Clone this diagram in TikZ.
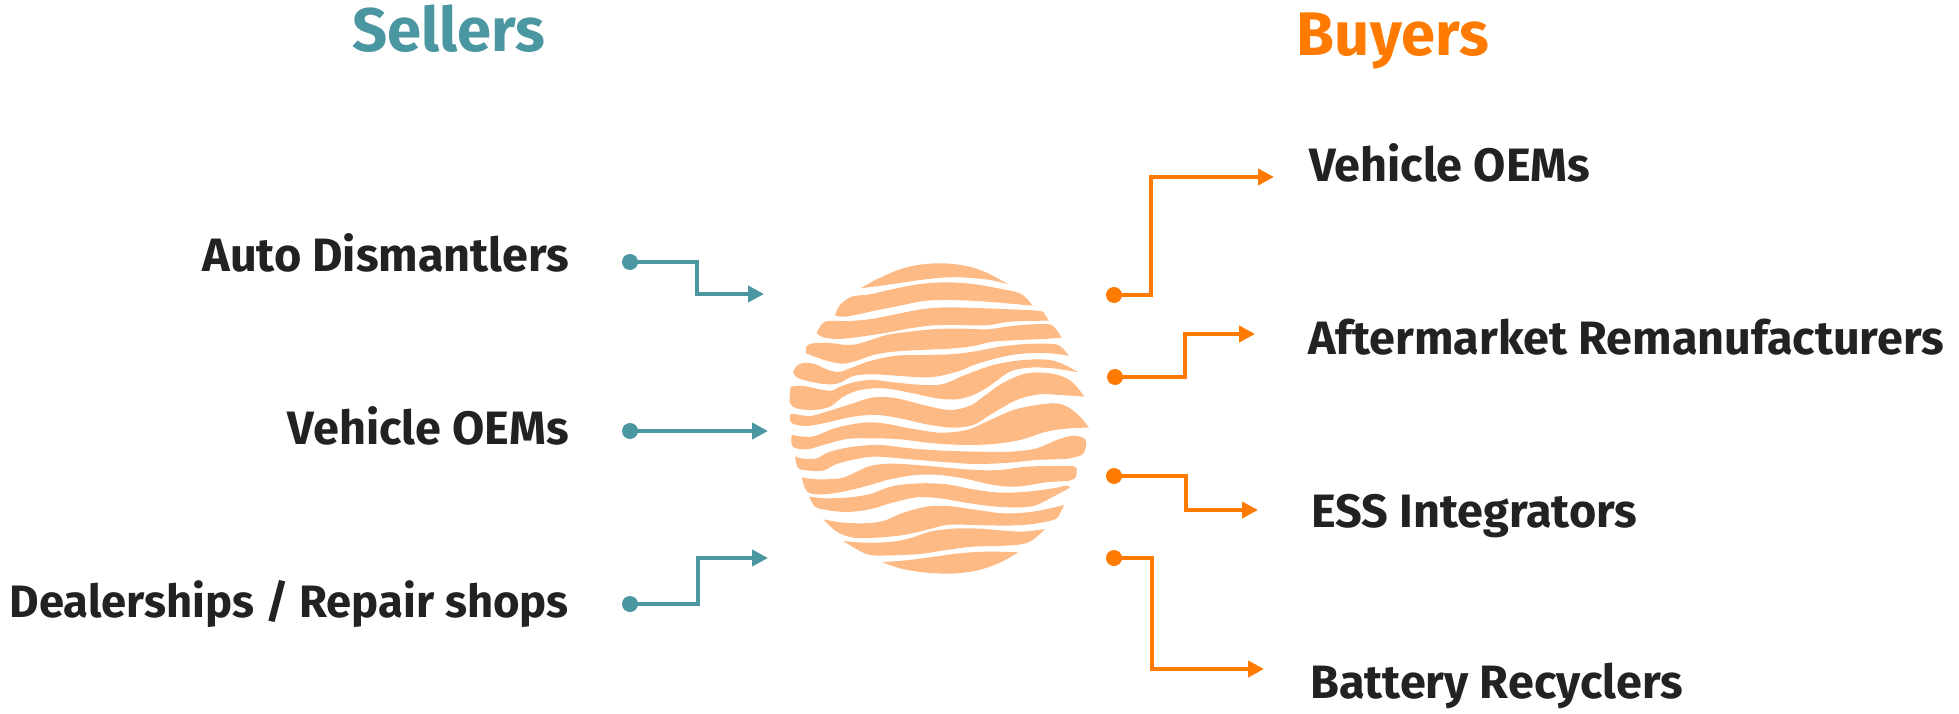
\documentclass[tikz,border=0pt]{standalone}
\usepackage{fontspec}
\setmainfont{Fira Sans}[BoldFont={* Bold}]
\definecolor{teal1}{HTML}{4A96A1}
\definecolor{orange1}{HTML}{FF7A00}
\definecolor{ink}{HTML}{222222}
\definecolor{blob}{HTML}{FDBA84}
\newcommand{\band}[2]{\fill[blob] plot[smooth,tension=.55] coordinates {#1} -- plot[smooth,tension=.55] coordinates {#2} -- cycle;}
\usetikzlibrary{arrows.meta}
\tikzset{
 lab/.style={font=\fontsize{46.8}{52}\selectfont\bfseries,text=ink,inner sep=0pt},
 labtight/.style={font=\fontsize{45.4}{52}\selectfont\bfseries,text=ink,inner sep=0pt},
 title/.style={font=\fontsize{61.5}{66}\selectfont\bfseries,inner sep=0pt},
 dot/.style={circle,fill,inner sep=0pt,minimum size=16pt},
 link/.style={line width=4pt,-{Triangle[length=16pt,width=16pt]}},
}
\begin{document}
\begin{tikzpicture}[x=1pt,y=-1pt]
\useasboundingbox (0,0) rectangle (1959,714);
\node[title,text=teal1,anchor=base] at (449,52) {Sellers};
\node[title,text=orange1,anchor=base] at (1393,56) {Buyers};
\node[lab,anchor=base east] (s1) at (569,271) {Auto Dismantlers};
\node[lab,anchor=base east] (s2) at (569,444) {Vehicle OEMs};
\node[labtight,anchor=base east] (s3) at (569,617) {Dealerships / Repair shops};
\node[lab,anchor=base west] (b1) at (1309,182) {Vehicle OEMs};
\node[lab,anchor=base west] (b2) at (1308,354) {Aftermarket Remanufacturers};
\node[lab,anchor=base west] (b3) at (1311,527) {ESS Integrators};
\node[lab,anchor=base west] (b4) at (1310,698) {Battery Recyclers};
\begin{scope}[color=teal1]
\node[dot,text=teal1] (a1) at (630,262) {};
\node[dot,text=teal1] (a2) at (630,431) {};
\node[dot,text=teal1] (a3) at (630,604) {};
\coordinate (t1) at (764,294);
\coordinate (t2) at (768,431);
\coordinate (t3) at (768,558);
\draw[link] (a1.center) -| (697,294) -- (t1);
\draw[link] (a2.center) -- (t2);
\draw[link] (a3.center) -| (698,558) -- (t3);
\end{scope}
\begin{scope}[color=orange1]
\node[dot,text=orange1] (c1) at (1114,295) {};
\node[dot,text=orange1] (c2) at (1115,377) {};
\node[dot,text=orange1] (c3) at (1114,476) {};
\node[dot,text=orange1] (c4) at (1114,558) {};
\coordinate (u1) at (1274,177);
\coordinate (u2) at (1255,334);
\coordinate (u3) at (1258,510);
\coordinate (u4) at (1264,669);
\draw[link] (c1.center) -| (1151,177) -- (u1);
\draw[link] (c2.center) -| (1185,334) -- (u2);
\draw[link] (c3.center) -| (1186,510) -- (u3);
\draw[link] (c4.center) -| (1152,669) -- (u4);
\end{scope}
\begin{scope}[shift={(760,240)},x=.3333pt,y=-.3333pt]
\band{(302,145)(350,118)(420,88)(480,74)(550,70)(620,78)(680,98)(745,133)}{(745,133)(690,120)(620,113)(560,112)(480,120)(400,132)(302,145)}
\band{(225,225)(240,195)(275,170)(330,163)(400,147)(480,132)(560,127)(640,132)(720,146)(775,158)(800,175)(818,197)}{(818,197)(740,190)(650,183)(560,180)(490,183)(420,197)(340,213)(270,228)(240,230)(225,225)}
\band{(170,280)(195,245)(270,243)(340,236)(420,220)(490,207)(560,202)(650,204)(750,208)(840,213)(855,225)(866,242)}{(866,242)(800,243)(740,246)(680,256)(600,255)(520,256)(450,265)(370,280)(280,293)(230,297)(190,292)(170,280)}
\band{(138,340)(140,318)(165,309)(220,310)(260,315)(300,310)(380,285)(450,275)(530,267)(610,266)(680,268)(740,260)(800,254)(868,253)(890,270)(905,293)}{(905,293)(850,297)(780,300)(700,305)(640,318)(570,326)(480,330)(400,335)(340,345)(290,362)(250,371)(210,365)(170,352)(138,340)}
\band{(100,395)(110,378)(130,369)(165,372)(200,388)(235,396)(270,385)(330,363)(410,347)(500,345)(570,343)(640,335)(720,320)(800,312)(880,312)(905,322)(926,347)}{(926,347)(870,340)(800,340)(730,350)(650,372)(600,392)(540,408)(490,412)(420,408)(340,403)(280,408)(235,430)(190,432)(130,420)(105,408)(100,395)}
\band{(92,440)(130,438)(180,448)(215,452)(245,438)(290,425)(340,420)(410,428)(490,435)(550,432)(610,407)(700,375)(790,360)(870,360)(915,375)(955,397)}{(955,397)(880,385)(810,383)(750,395)(690,437)(640,465)(590,478)(530,475)(450,458)(370,445)(300,450)(250,470)(210,500)(160,510)(110,505)(90,490)(90,460)(92,440)}
\band{(90,525)(100,522)(150,528)(200,515)(280,490)(340,472)(410,475)(490,495)(570,510)(630,497)(670,470)(730,428)(800,400)(870,400)(920,415)(950,440)(973,470)}{(973,470)(900,465)(840,463)(770,480)(690,525)(640,555)(580,563)(500,553)(420,535)(350,525)(280,530)(200,548)(140,558)(100,552)(90,540)(90,525)}
\band{(95,585)(130,590)(165,588)(230,563)(310,548)(370,550)(450,565)(540,578)(620,570)(680,545)(760,510)(830,495)(890,490)(930,505)(965,535)(987,563)}{(987,563)(930,565)(860,575)(780,600)(700,612)(620,615)(520,610)(420,598)(340,595)(260,597)(190,615)(140,628)(100,622)(94,605)(95,585)}
\band{(105,650)(130,656)(170,655)(210,635)(280,620)(360,615)(450,625)(550,632)(650,635)(750,635)(830,625)(890,600)(940,587)(975,597)(978,620)(965,645)(920,657)}{(920,657)(830,660)(750,668)(650,672)(550,666)(450,658)(350,650)(290,657)(230,672)(190,692)(150,692)(115,685)(105,650)}
\band{(125,712)(170,718)(240,715)(280,700)(330,678)(390,671)(470,675)(560,683)(650,690)(720,690)(800,680)(900,678)(945,680)(950,700)(945,715)(925,723)}{(925,723)(860,727)(770,740)(700,735)(620,717)(540,705)(470,705)(390,718)(320,738)(250,755)(190,763)(150,760)(135,745)(125,712)}
\band{(148,770)(200,775)(270,772)(330,762)(400,738)(480,730)(560,733)(640,748)(720,758)(800,755)(880,745)(920,737)(930,743)}{(930,743)(880,770)(820,798)(750,802)(680,797)(610,787)(540,775)(470,772)(390,790)(330,808)(260,816)(200,810)(165,800)(148,770)}
\band{(190,838)(240,847)(310,850)(370,843)(430,818)(500,800)(560,798)(640,808)(730,820)(820,815)(912,795)}{(912,795)(900,820)(885,838)(820,852)(740,857)(650,855)(560,855)(500,870)(430,885)(350,893)(280,893)(230,875)(190,838)}
\band{(250,903)(310,908)(390,906)(450,895)(510,875)(580,866)(660,866)(730,872)(790,875)(855,867)}{(855,867)(825,895)(790,912)(720,918)(640,920)(560,930)(480,942)(400,946)(330,945)(285,925)(250,903)}
\band{(365,966)(430,962)(510,952)(600,940)(680,935)(775,937)}{(775,937)(720,968)(650,992)(570,1001)(490,997)(420,985)(365,966)}
\end{scope}
\end{tikzpicture}
\end{document}
